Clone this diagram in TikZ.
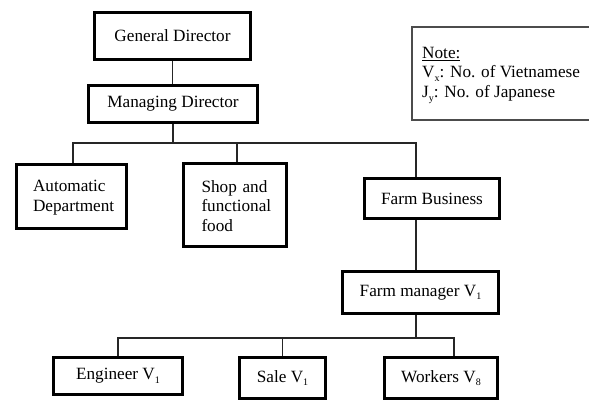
\documentclass[tikz,border=0pt]{standalone}
\usepackage{fontspec}
\setmainfont{Liberation Serif}
\newcommand\lowsub[1]{\raisebox{-0.45ex}{\fontsize{10}{10}\selectfont #1}}
\begin{document}
\begin{tikzpicture}[x=1pt,y=-1pt,
  txt/.style={font=\fontsize{17.2}{19.5}\selectfont},
  box/.style={txt, draw=black, line width=3.6pt, rectangle, inner sep=0pt},
  conn/.style={line width=1.4pt, draw=black!85},
  notebox/.style={line width=1.1pt, draw=black!70}]
\useasboundingbox (0,0) rectangle (589,401);
\clip (0,0) rectangle (589,401);
% boxes
\node[box, minimum width=156pt, minimum height=47pt] (gd) at (172.5,36) {General Director};
\node[box, minimum width=169pt, minimum height=37pt] (md) at (173,104) {Managing Director};
\node[box, minimum width=110pt, minimum height=64pt, text width=77pt, align=left] (auto) at (71.5,196.5) {\rule{0pt}{14pt}Automatic\\Department};
\node[box, minimum width=103pt, minimum height=83pt, text width=67pt, align=left] (shop) at (235,205) {\rule{0pt}{14pt}Shop and\\functional\\food};
\node[box, minimum width=135pt, minimum height=40pt] (fb) at (432,198.5) {Farm Business};
\node[box, minimum width=156pt, minimum height=42pt] (fm) at (420.5,292.5) {Farm manager V\lowsub{1}};
\node[box, minimum width=129pt, minimum height=37pt] (eng) at (118,376) {Engineer V\lowsub{1}};
\node[box, minimum width=86pt, minimum height=41pt] (sale) at (282.5,378) {Sale V\lowsub{1}};
\node[box, minimum width=113pt, minimum height=41pt] (wk) at (441,378) {Workers V\lowsub{8}};
% note
\draw[notebox] (412,27) rectangle (600,120);
\node[txt, anchor=north west, align=left, inner sep=0pt] (note) at (422,47) {\underline{Note:}\\V\lowsub{x}: No. of Vietnamese\\J\lowsub{y}: No. of Japanese};
% connectors
\coordinate (busa) at (0,143);
\coordinate (busb) at (0,338);
\coordinate (fbtop) at ([xshift=-16pt]fb.north);
\coordinate (fbbot) at ([xshift=-16pt]fb.south);
\coordinate (wktop) at ([xshift=13pt]wk.north);
\draw[conn] (gd.south) -- (gd.south |- md.north);
\draw[conn] (md.south) -- (md.south |- busa);
\draw[conn] ([xshift=1.5pt]auto.north) |- (fbtop |- busa) -- (fbtop);
\draw[conn] ([xshift=2pt]shop.north) -- ([xshift=2pt]shop.north |- busa);
\draw[conn] (fbbot) -- (fbbot |- fm.north);
\draw[conn] (fbbot |- fm.south) -- (fbbot |- busb);
\draw[conn] (eng.north) |- (wktop |- busb) -- (wktop);
\draw[conn] (sale.north) -- (sale.north |- busb);
\end{tikzpicture}
\end{document}
